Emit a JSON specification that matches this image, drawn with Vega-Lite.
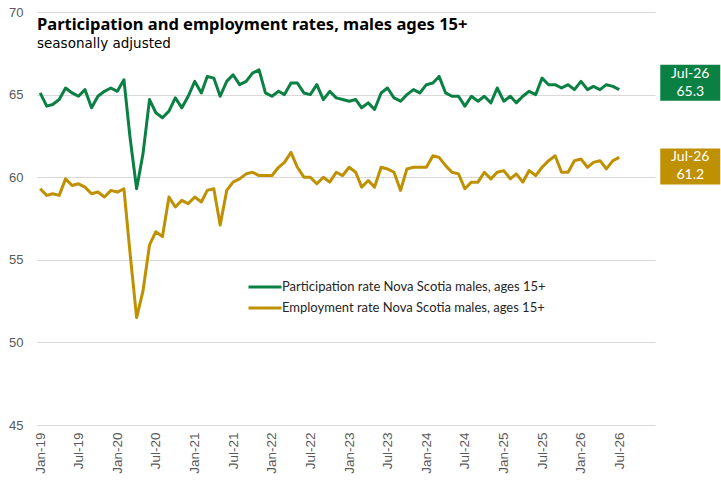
{
  "$schema": "https://vega.github.io/schema/vega-lite/v6.json",
  "width": 618,
  "height": 413,
  "autosize": {"type": "none"},
  "padding": {"left": 37, "top": 12, "right": 66, "bottom": 56},
  "background": "white",
  "config": {"view": {"stroke": null}, "font": "Liberation Sans"},
  "title": {
    "text": "Participation and employment rates, males ages 15+",
    "subtitle": "seasonally adjusted",
    "anchor": "start",
    "frame": "group",
    "font": "Noto Sans",
    "fontSize": 16.5,
    "fontWeight": "bold",
    "color": "#000000",
    "subtitleFont": "DejaVu Sans",
    "subtitleFontSize": 13.5,
    "subtitleColor": "#000000",
    "subtitlePadding": 3,
    "dy": 48
  },
  "data": {
    "values": [
      {"d": "2019-01-15", "p": 65.1, "e": 59.3},
      {"d": "2019-02-15", "p": 64.3, "e": 58.9},
      {"d": "2019-03-15", "p": 64.4, "e": 59.0},
      {"d": "2019-04-15", "p": 64.7, "e": 58.9},
      {"d": "2019-05-15", "p": 65.4, "e": 59.9},
      {"d": "2019-06-15", "p": 65.1, "e": 59.5},
      {"d": "2019-07-15", "p": 64.9, "e": 59.6},
      {"d": "2019-08-15", "p": 65.3, "e": 59.4},
      {"d": "2019-09-15", "p": 64.2, "e": 59.0},
      {"d": "2019-10-15", "p": 64.9, "e": 59.1},
      {"d": "2019-11-15", "p": 65.2, "e": 58.8},
      {"d": "2019-12-15", "p": 65.4, "e": 59.2},
      {"d": "2020-01-15", "p": 65.2, "e": 59.1},
      {"d": "2020-02-15", "p": 65.9, "e": 59.3},
      {"d": "2020-03-15", "p": 62.4, "e": 55.4},
      {"d": "2020-04-15", "p": 59.3, "e": 51.5},
      {"d": "2020-05-15", "p": 61.4, "e": 53.1},
      {"d": "2020-06-15", "p": 64.7, "e": 55.9},
      {"d": "2020-07-15", "p": 63.9, "e": 56.7},
      {"d": "2020-08-15", "p": 63.6, "e": 56.4},
      {"d": "2020-09-15", "p": 64.0, "e": 58.8},
      {"d": "2020-10-15", "p": 64.8, "e": 58.2},
      {"d": "2020-11-15", "p": 64.2, "e": 58.6},
      {"d": "2020-12-15", "p": 64.9, "e": 58.4},
      {"d": "2021-01-15", "p": 65.8, "e": 58.8},
      {"d": "2021-02-15", "p": 65.1, "e": 58.5},
      {"d": "2021-03-15", "p": 66.1, "e": 59.2},
      {"d": "2021-04-15", "p": 66.0, "e": 59.3},
      {"d": "2021-05-15", "p": 64.9, "e": 57.1},
      {"d": "2021-06-15", "p": 65.8, "e": 59.2},
      {"d": "2021-07-15", "p": 66.2, "e": 59.7},
      {"d": "2021-08-15", "p": 65.6, "e": 59.9},
      {"d": "2021-09-15", "p": 65.8, "e": 60.2},
      {"d": "2021-10-15", "p": 66.3, "e": 60.3},
      {"d": "2021-11-15", "p": 66.5, "e": 60.1},
      {"d": "2021-12-15", "p": 65.1, "e": 60.1},
      {"d": "2022-01-15", "p": 64.9, "e": 60.1},
      {"d": "2022-02-15", "p": 65.2, "e": 60.6},
      {"d": "2022-03-15", "p": 65.0, "e": 60.9},
      {"d": "2022-04-15", "p": 65.7, "e": 61.5},
      {"d": "2022-05-15", "p": 65.7, "e": 60.6},
      {"d": "2022-06-15", "p": 65.1, "e": 60.0},
      {"d": "2022-07-15", "p": 65.0, "e": 60.0},
      {"d": "2022-08-15", "p": 65.6, "e": 59.6},
      {"d": "2022-09-15", "p": 64.7, "e": 60.0},
      {"d": "2022-10-15", "p": 65.2, "e": 59.7},
      {"d": "2022-11-15", "p": 64.8, "e": 60.3},
      {"d": "2022-12-15", "p": 64.7, "e": 60.1},
      {"d": "2023-01-15", "p": 64.6, "e": 60.6},
      {"d": "2023-02-15", "p": 64.7, "e": 60.3},
      {"d": "2023-03-15", "p": 64.2, "e": 59.4},
      {"d": "2023-04-15", "p": 64.5, "e": 59.8},
      {"d": "2023-05-15", "p": 64.1, "e": 59.4},
      {"d": "2023-06-15", "p": 65.1, "e": 60.6},
      {"d": "2023-07-15", "p": 65.4, "e": 60.5},
      {"d": "2023-08-15", "p": 64.8, "e": 60.3},
      {"d": "2023-09-15", "p": 64.6, "e": 59.2},
      {"d": "2023-10-15", "p": 65.0, "e": 60.5},
      {"d": "2023-11-15", "p": 65.3, "e": 60.6},
      {"d": "2023-12-15", "p": 65.1, "e": 60.6},
      {"d": "2024-01-15", "p": 65.6, "e": 60.6},
      {"d": "2024-02-15", "p": 65.7, "e": 61.3},
      {"d": "2024-03-15", "p": 66.1, "e": 61.2},
      {"d": "2024-04-15", "p": 65.1, "e": 60.7},
      {"d": "2024-05-15", "p": 64.9, "e": 60.3},
      {"d": "2024-06-15", "p": 64.9, "e": 60.2},
      {"d": "2024-07-15", "p": 64.3, "e": 59.3},
      {"d": "2024-08-15", "p": 64.9, "e": 59.7},
      {"d": "2024-09-15", "p": 64.6, "e": 59.7},
      {"d": "2024-10-15", "p": 64.9, "e": 60.3},
      {"d": "2024-11-15", "p": 64.5, "e": 59.9},
      {"d": "2024-12-15", "p": 65.4, "e": 60.3},
      {"d": "2025-01-15", "p": 64.6, "e": 60.4},
      {"d": "2025-02-15", "p": 64.9, "e": 59.9},
      {"d": "2025-03-15", "p": 64.5, "e": 60.2},
      {"d": "2025-04-15", "p": 64.9, "e": 59.7},
      {"d": "2025-05-15", "p": 65.2, "e": 60.4},
      {"d": "2025-06-15", "p": 65.0, "e": 60.1},
      {"d": "2025-07-15", "p": 66.0, "e": 60.6},
      {"d": "2025-08-15", "p": 65.6, "e": 61.0},
      {"d": "2025-09-15", "p": 65.6, "e": 61.3},
      {"d": "2025-10-15", "p": 65.4, "e": 60.3},
      {"d": "2025-11-15", "p": 65.6, "e": 60.3},
      {"d": "2025-12-15", "p": 65.3, "e": 61.0},
      {"d": "2026-01-15", "p": 65.8, "e": 61.1},
      {"d": "2026-02-15", "p": 65.3, "e": 60.6},
      {"d": "2026-03-15", "p": 65.5, "e": 60.9},
      {"d": "2026-04-15", "p": 65.3, "e": 61.0},
      {"d": "2026-05-15", "p": 65.6, "e": 60.5},
      {"d": "2026-06-15", "p": 65.5, "e": 61.0},
      {"d": "2026-07-15", "p": 65.3, "e": 61.2}
    ]
  },
  "transform": [
    {"fold": ["p", "e"], "as": ["series", "value"]}
  ],
  "encoding": {
    "x": {
      "field": "d",
      "type": "temporal",
      "title": null,
      "scale": {"domain": ["2018-12-31", "2026-12-31"]},
      "axis": {
        "values": ["2019-01-15", "2019-07-15", "2020-01-15", "2020-07-15", "2021-01-15", "2021-07-15", "2022-01-15", "2022-07-15", "2023-01-15", "2023-07-15", "2024-01-15", "2024-07-15", "2025-01-15", "2025-07-15", "2026-01-15", "2026-07-15"],
        "format": "%b-%y",
        "labelAngle": 270,
        "labelFont": "Liberation Sans",
        "labelFontSize": 13.5,
        "labelColor": "#595959",
        "labelPadding": 7,
        "labelOverlap": false,
        "labelFlush": false,
        "grid": false,
        "domain": false,
        "ticks": false
      }
    },
    "y": {
      "field": "value",
      "type": "quantitative",
      "title": null,
      "scale": {"domain": [45, 70], "nice": false, "zero": false},
      "axis": {
        "values": [45, 50, 55, 60, 65, 70],
        "labelFont": "Liberation Sans",
        "labelFontSize": 13,
        "labelColor": "#595959",
        "labelPadding": 14,
        "gridColor": "#d9d9d9",
        "gridWidth": 1,
        "domain": false,
        "ticks": false
      }
    }
  },
  "layer": [
    {
      "mark": {"type": "line", "strokeWidth": 3, "strokeJoin": "round"},
      "encoding": {
        "color": {
          "field": "series",
          "type": "nominal",
          "scale": {"domain": ["p", "e"], "range": ["#0b8043", "#bf9000"]},
          "legend": {
            "orient": "none",
            "legendX": 221,
            "legendY": 268,
            "title": null,
            "symbolType": "M-3,0H3",
            "symbolSize": 121,
            "symbolStrokeWidth": 3,
            "labelFont": "Lato",
            "labelFontSize": 13,
            "labelColor": "#262626",
            "labelLimit": 0,
            "labelOffset": 10,
            "rowPadding": 7,
            "labelExpr": "datum.value == 'p' ? 'Participation rate Nova Scotia males, ages 15+' : 'Employment rate Nova Scotia males, ages 15+'"
          }
        }
      }
    },
    {
      "transform": [
        {"filter": "year(datum.d) == 2026 && month(datum.d) == 6 && datum.series == 'p'"}
      ],
      "layer": [
        {
          "mark": {"type": "point", "shape": "M-1,-0.6H1V0.6H-1Z", "size": 3600, "filled": true, "opacity": 1, "color": "#0b8043", "xOffset": 71, "yOffset": -7}
        },
        {
          "mark": {"type": "text", "font": "Lato", "fontSize": 14, "color": "#ffffff", "align": "center", "baseline": "middle", "xOffset": 71, "yOffset": -16},
          "encoding": {"text": {"field": "d", "type": "temporal", "format": "%b-%y"}}
        },
        {
          "mark": {"type": "text", "font": "Lato", "fontSize": 14, "color": "#ffffff", "align": "center", "baseline": "middle", "xOffset": 71, "yOffset": 2},
          "encoding": {"text": {"field": "value", "type": "quantitative", "format": ".1f"}}
        }
      ]
    },
    {
      "transform": [
        {"filter": "year(datum.d) == 2026 && month(datum.d) == 6 && datum.series == 'e'"}
      ],
      "layer": [
        {
          "mark": {"type": "point", "shape": "M-1,-0.6H1V0.6H-1Z", "size": 3600, "filled": true, "opacity": 1, "color": "#bf9000", "xOffset": 71, "yOffset": 9}
        },
        {
          "mark": {"type": "text", "font": "Lato", "fontSize": 14, "color": "#ffffff", "align": "center", "baseline": "middle", "xOffset": 71, "yOffset": 0},
          "encoding": {"text": {"field": "d", "type": "temporal", "format": "%b-%y"}}
        },
        {
          "mark": {"type": "text", "font": "Lato", "fontSize": 14, "color": "#ffffff", "align": "center", "baseline": "middle", "xOffset": 71, "yOffset": 18},
          "encoding": {"text": {"field": "value", "type": "quantitative", "format": ".1f"}}
        }
      ]
    }
  ]
}
